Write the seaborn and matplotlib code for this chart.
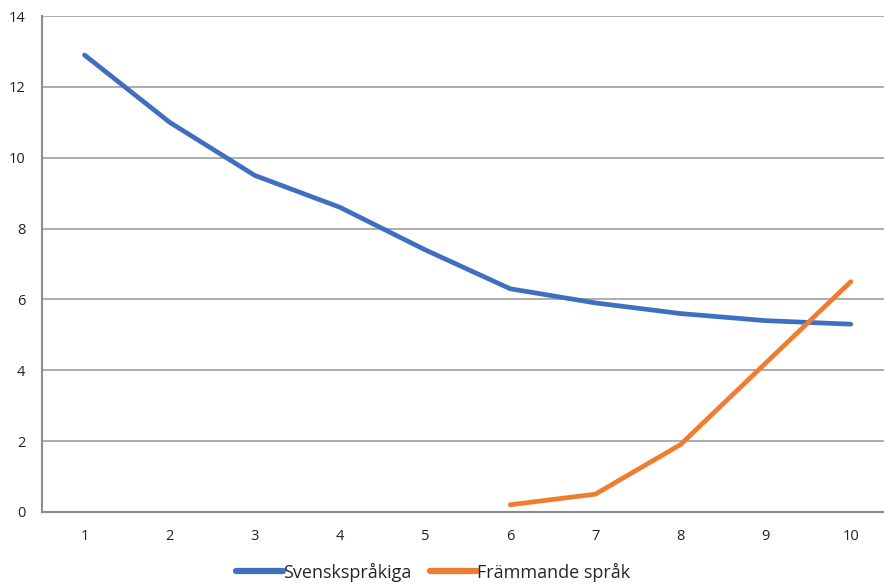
import numpy as np
import pandas as pd
import matplotlib
matplotlib.use("Agg")
import matplotlib.pyplot as plt
from matplotlib.ticker import MultipleLocator
import seaborn as sns

# values
categories = [1, 2, 3, 4, 5, 6, 7, 8, 9, 10]
svensk = [12.9, 11.0, 9.5, 8.6, 7.4, 6.3, 5.9, 5.6, 5.4, 5.3]
frammande = [None, None, None, None, None, 0.2, 0.5, 1.9, 4.2, 6.5]
series_names = ["Svenskspråkiga", "Främmande språk"]
colors = ["#3f6fbf", "#f07c30"]

df = pd.DataFrame({
    "x": categories * 2,
    "y": svensk + frammande,
    "serie": [series_names[0]] * 10 + [series_names[1]] * 10,
}).dropna()

sns.set_style("white")
plt.rcParams["font.family"] = ["Open Sans", "DejaVu Sans"]

fig = plt.figure(figsize=(8.84, 5.85), dpi=100)
ax = fig.add_axes([0.0475, 0.125, 0.9525, 0.8475])

sns.lineplot(data=df, x="x", y="y", hue="serie", palette=colors,
             linewidth=3.4, ax=ax, legend=False)

ax.set_xlim(0.5, 10.39)
ax.set_ylim(0, 14)
ax.yaxis.set_major_locator(MultipleLocator(2))
ax.set_xticks(categories)
ax.set_xticks(np.arange(0.5, 10.5, 1), minor=True)
ax.tick_params(axis="x", which="major", length=0, pad=12, labelsize=10.5, colors="#222222")
ax.tick_params(axis="x", which="minor", length=5, width=1.2, color="#8c8c8c")
ax.tick_params(axis="y", length=5, width=1.2, color="#8c8c8c", labelsize=10.5,
               labelcolor="#222222", pad=7)
ax.grid(axis="y", color="#9e9e9e", linewidth=1.2)
ax.set_axisbelow(True)
for side in ["top", "right"]:
    ax.spines[side].set_visible(False)
for side in ["left", "bottom"]:
    ax.spines[side].set_color("#8c8c8c")
    ax.spines[side].set_linewidth(1.5)
ax.set_xlabel("")
ax.set_ylabel("")

handles = [plt.Line2D([], [], color=c, linewidth=4.5) for c in colors]
fig.legend(handles, series_names, loc="lower center", bbox_to_anchor=(0.49, -0.022),
           ncol=2, frameon=False, fontsize=13, handlelength=2.6,
           handletextpad=0.0, columnspacing=1.0)

fig.savefig("out.png", dpi=100)
plt.close(fig)
